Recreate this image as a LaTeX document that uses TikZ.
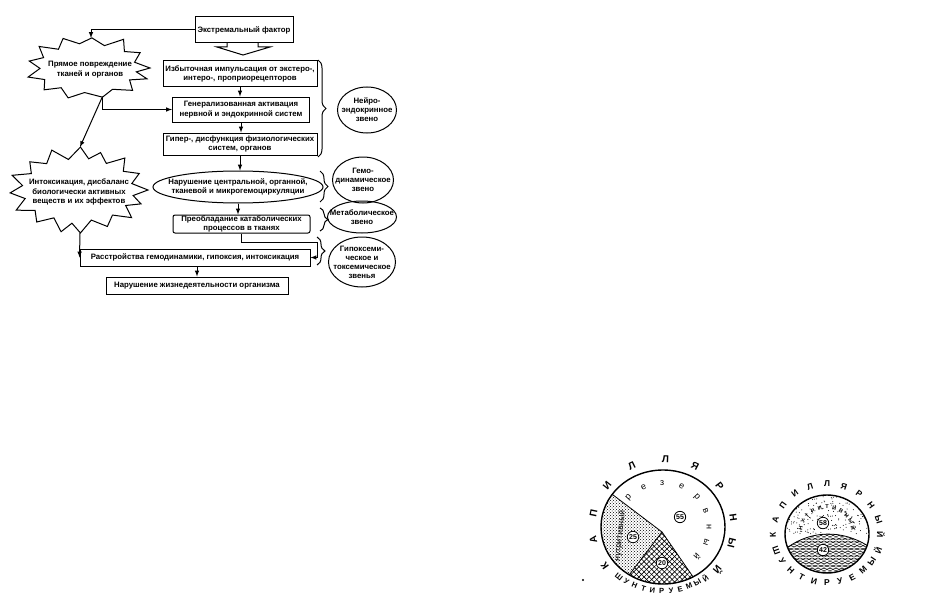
\documentclass[tikz,border=0pt]{standalone}
\usepackage{fontspec}
\setmainfont{Liberation Sans}
\usetikzlibrary{shapes.geometric,decorations.pathreplacing,patterns,patterns.meta}

\begin{document}
\begin{tikzpicture}[x=1pt, y=-1pt,
	box/.style = {draw, line width=1pt, inner sep=0pt, align=center,
	font=\bfseries\fontsize{7.8}{9.6}\selectfont},
	bursttext/.style = {inner sep=0pt, align=center, font=\bfseries\fontsize{7.8}{9.8}\selectfont},
	oval/.style = {ellipse, draw, line width=1pt, inner sep=0pt},
	ovaltext/.style = {align=center, inner sep=0pt, font=\bfseries\fontsize{7.8}{9}\selectfont},
	edge/.style = {line width=1pt, -latex},
	bracket/.style = {decorate, decoration={brace, amplitude=8pt}, line width=1pt},
	letter/.style = {inner sep=0pt, font=\bfseries\fontsize{10}{10}\selectfont},
	num/.style = {circle, draw, fill=white, line width=0.8pt, inner sep=0.8pt,
	font=\bfseries\fontsize{7}{7}\selectfont}]

	\useasboundingbox (0,0) rectangle (932,610);

	\node (factor) [box, minimum width=98pt, minimum height=26pt] at (244,30) {Экстремальный фактор};
	\draw[line width=1pt] (227,43) -- (227,47) -- (217,47) -- (243,55) -- (270,47) -- (258,47) -- (258,43);

	\node (impulse) [box, minimum width=154pt, minimum height=26pt] at (240,74)
		{Избыточная импульсация от экстеро-,\\интеро-, проприорецепторов};
	\node (activ) [box, minimum width=137pt, minimum height=25pt] at (241,109.5)
		{Генерализованная активация\\нервной и эндокринной систем};
	\node (hyper) [box, minimum width=154pt, minimum height=22pt] at (240,144)
		{Гипер-, дисфункция физиологических\\систем, органов};
	\node (circ) [oval, minimum width=170pt, minimum height=32pt] at (238,187) {};
	\node (circ-t) [ovaltext] at (circ) {Нарушение центральной, органной,\\тканевой и микрогемоциркуляции};
	\node (catab) [box, rounded corners=2pt, minimum width=137pt, minimum height=18pt,
		font=\bfseries\fontsize{7.8}{8.6}\selectfont] at (241.5,224)
		{Преобладание катаболических\\процессов в тканях};
	\node (rasstr) [box, minimum width=230pt, minimum height=17pt] at (195,257.5)
		{Расстройства гемодинамики, гипоксия, интоксикация};
	\node (life) [box, minimum width=182pt, minimum height=17pt] at (197,285.5)
		{Нарушение жизнедеятельности организма};

	% Bursts
	\node (direct) [bursttext] at (90,70) {Прямое повреждение\\тканей и органов};
	\begin{scope}[shift={(88,68)}, y=1pt]
		\draw[line width=1pt] (0:62 and 35) \foreach \a/\d in {14/14,28/3,42/13,55/0,70/14,86/6,100/13,
			115/3,128/14,142/0,155/13,168/2,181/14,195/0,208/13,222/3,236/14,250/4,
			266/13,285/6,300/13,318/2,330/14,342/0,351/13} { -- ({\a}:{62-\d} and {35-0.8*\d}) } -- cycle;
	\end{scope}
	\node (intox) [bursttext] at (79,192) {Интоксикация, дисбаланс\\биологически активных\\веществ и их эффектов};
	\begin{scope}[shift={(78,190)}, y=1pt]
		\draw[line width=1pt] (0:70 and 43) \foreach \a/\d in {12/15,24/3,36/14,48/0,59/15,70/4,79/14,
			88/0,100/15,112/0,124/14,136/3,148/15,160/0,172/14,184/2,196/15,208/0,220/14,232/3,
			244/15,256/0,264/12,272/0,284/15,296/3,308/14,320/0,330/15,340/3,350/14}
			{ -- ({\a}:{70-\d} and {43-0.8*\d}) } -- cycle;
	\end{scope}

	\coordinate (direct-n) at (91,38);
	\coordinate (direct-s) at (102.5,96.5);
	\coordinate (intox-n) at (80,147);
	\coordinate (intox-s) at (80,233);

	\draw[edge] (factor.west) -| (direct-n);
	\draw[edge] (direct-s) |- (activ.west);
	\draw[edge] (direct-s) -- (intox-n);
	\draw[edge] (intox-s) -- (rasstr.west);
	\draw[edge] (impulse.south) -- (impulse.south |- activ.north);
	\draw[edge] (activ.south) -- (activ.south |- hyper.north);
	\draw[edge] (hyper.south) -- (hyper.south |- circ.north);
	\draw[edge] (circ.south) -- (circ.south |- catab.north);
	\draw[edge] (catab.south) -- ++(0,9) -- ++(76,0) |- (rasstr.east);
	\draw[edge] (life.north |- rasstr.south) -- (life.north);

	% Links
	\draw[bracket] (318,60) -- (318,157);
	\draw[bracket] (320,171) -- (320,202);
	\draw[bracket] (320,208) -- (320,231);
	\draw[bracket] (317,237) -- (317,265);

	\node (neuro) [oval, minimum width=59pt, minimum height=46pt] at (367,110) {};
	\node (neuro-t) [ovaltext] at (neuro) {Нейро-\\эндокринное\\звено};
	\node (hemo) [oval, minimum width=61pt, minimum height=46pt] at (363,180) {};
	\node (hemo-t) [ovaltext] at (hemo) {Гемо-\\динамическое\\звено};
	\node (metab) [oval, minimum width=69pt, minimum height=32pt] at (362,217) {};
	\node (metab-t) [ovaltext] at (metab) {Метаболическое\\звено};
	\node (hypox) [oval, minimum width=67pt, minimum height=50pt] at (362,262) {};
	\node (hypox-t) [ovaltext] at (hypox) {Гипоксеми-\\ческое и\\токсемическое\\звенья};

	% Big circle
	\begin{scope}[shift={(663,527)}, y=1pt]
		\fill[pattern=crosshatch dots] (-1,-5) -- (145:62 and 57)
			arc[start angle=145, end angle=237, x radius=62, y radius=57] -- cycle;
		\foreach \ang in {45,-45}
			\fill[pattern={Lines[angle=\ang, distance=3.6pt, line width=0.6pt]}] (-1,-5) -- (237:62 and 57)
				arc[start angle=237, end angle=299, x radius=62, y radius=57] -- cycle;
		\draw[line width=0.8pt] (145:62 and 57) -- (-1,-5) -- (237:62 and 57) (-1,-5) -- (299:62 and 57);
		\draw[line width=1.4pt] (0,0) ellipse [x radius=62, y radius=57];

		\node (p55) [num] at (17,10) {55};
		\node (p25) [num] at (-30,-10) {25};
		\node (p20) [num] at (-1,-36) {20};

		\foreach \ang/\ch [count=\i] in {215/К,191/А,168/П,142/И,116/Л,88/Л,63/Я,37/Р,8/Н,-14/Ы,-39/Й}
			\node (bk\i) [letter, rotate=\ang-90] at (\ang:71 and 68) {\ch};
		\foreach \ch [count=\i, evaluate=\i as \ang using 231+(\i-1)*7.6] in {Ш,У,Н,Т,И,Р,У,Е,М,Ы,Й}
			\node (bs\i) [letter, font=\bfseries\fontsize{7.5}{7.5}\selectfont, rotate=\ang+90] at (\ang:70 and 64) {\ch};
		\foreach \ang/\ch [count=\i] in {138/р,115/е,91/з,66/е,43/р,22/в,0/н,-20/ы,-42/й}
			\node (br\i) [letter, font=\fontsize{9}{9}\selectfont, rotate=\ang-90] at (\ang:46 and 44) {\ch};
		\node (bn) [letter, font=\fontsize{8.5}{8.5}\selectfont, rotate=84] at (-43,-9) {нутритивный};
		\fill (-80,-53) circle (1.2);
	\end{scope}

	% Small circle
	\begin{scope}[shift={(827,534)}, y=1pt]
		\begin{scope}
			\clip (200:42 and 39) arc[start angle=200, end angle=-17, x radius=42, y radius=39]
				.. controls (15,4) and (-15,4) .. cycle;
			\pgfmathsetseed{7}
			\foreach \k in {1,...,220}
				\fill ({rnd*84-42},{rnd*40}) circle (0.5);
		\end{scope}
		\begin{scope}
			\clip (200:42 and 39) .. controls (-15,4) and (15,4) .. (343:42 and 39)
				arc[start angle=-17, end angle=-160, x radius=42, y radius=39] -- cycle;
			\foreach \k in {0,...,12} {
				\draw[line width=0.5pt, domain=-44:44, samples=60] plot (\x, {2-\k*3.4+1.1*sin(\x*30)});
				\draw[line width=0.5pt, domain=-44:44, samples=60] plot (\x, {2-\k*3.4-1.1*sin(\x*30)});
			}
		\end{scope}
		\draw[line width=0.8pt] (200:42 and 39) .. controls (-15,4) and (15,4) .. (343:42 and 39);
		\draw[line width=1.4pt] (0,0) ellipse [x radius=42, y radius=39];

		\node (p58) [num] at (-4,11) {58};
		\node (p42) [num] at (-4,-16) {42};

		\foreach \ch [count=\i, evaluate=\i as \ang using 181-(\i-1)*18.2] in {К,А,П,И,Л,Л,Я,Р,Н,Ы,Й}
			\node (sk\i) [letter, font=\bfseries\fontsize{8.5}{8.5}\selectfont, rotate=\ang-90] at (\ang:54 and 50) {\ch};
		\foreach \ch [count=\i, evaluate=\i as \ang using 200+(\i-1)*14] in {Ш,У,Н,Т,И,Р,У,Е,М,Ы,Й}
			\node (ss\i) [letter, font=\bfseries\fontsize{8.5}{8.5}\selectfont, rotate=\ang+90] at (\ang:54 and 49) {\ch};
		\foreach \ch [count=\i, evaluate=\i as \ang using 168-(\i-1)*15.6] in {Н,У,Т,Р,И,Т,И,В,Н,Ы,Й}
			\node (sn\i) [letter, font=\bfseries\fontsize{5.5}{5.5}\selectfont, rotate=\ang-90] at (\ang:27) {\ch};
	\end{scope}
\end{tikzpicture}
\end{document}
